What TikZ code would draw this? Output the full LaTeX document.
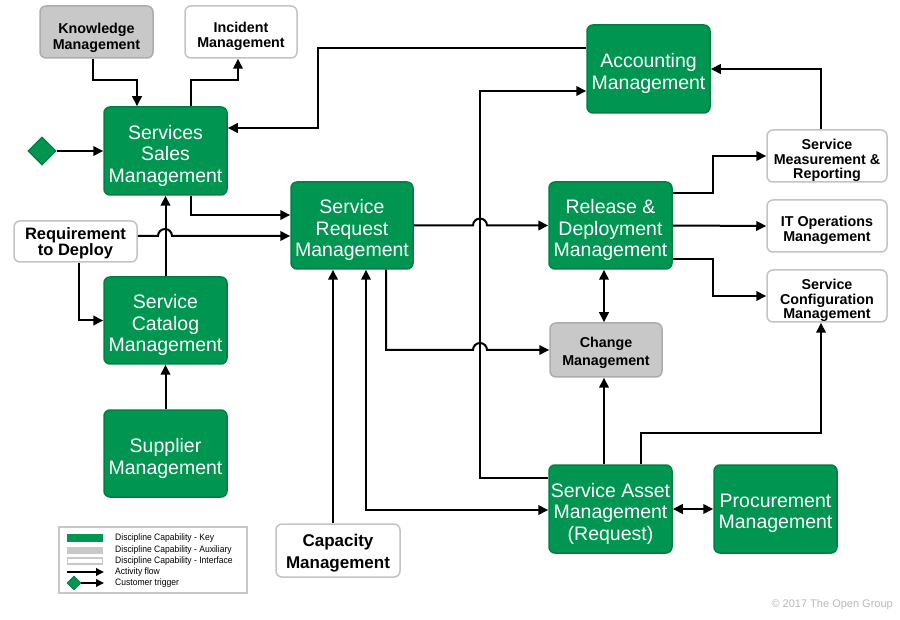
\documentclass[tikz,border=0pt]{standalone}
\usepackage{fontspec}
\setmainfont{Liberation Sans}
\newfontfamily\legfont[FakeStretch=0.92]{Liberation Sans}
\usetikzlibrary{arrows.meta,shapes.geometric}
\definecolor{mgreen}{RGB}{0,150,82}
\definecolor{mgreenD}{RGB}{0,128,64}
\definecolor{gfill}{RGB}{200,200,200}
\definecolor{gborder}{RGB}{172,172,172}
\definecolor{wborder}{RGB}{195,195,195}
\definecolor{copygray}{RGB}{185,185,185}
\begin{document}
\begin{tikzpicture}[x=1pt,y=-1pt,
  box/.style={rounded corners=6pt, line width=1.5pt, inner sep=0pt},
  gbox/.style={box, fill=mgreen, draw=mgreenD, minimum width=123pt, minimum height=88pt},
  wbox/.style={box, fill=white, draw=wborder, minimum width=120pt, minimum height=52pt},
  ybox/.style={box, fill=gfill, draw=gborder, minimum width=113pt, minimum height=52pt},
  gtext/.style={align=center, inner sep=0pt, text=white, font=\fontsize{19.5}{21.5}\selectfont},
  btext/.style={align=center, inner sep=0pt, text=black, font=\bfseries\fontsize{14.3}{14.8}\selectfont},
  trig/.style={diamond, fill=mgreen, draw=mgreenD, line width=1.2pt, inner sep=0pt},
  tip/.tip={Triangle[length=10pt,width=9.5pt]},
  arr/.style={line width=2pt, -tip},
  arr2/.style={line width=2pt, tip-tip},
  legtext/.style={font=\legfont\fontsize{9.3}{10}\selectfont, anchor=west, inner sep=0pt}
]
\useasboundingbox (0,0) rectangle (900,620);

% ---------- boxes ----------
\node[ybox] (km) at (96.5,32) {};
\node[wbox, minimum width=112pt] (im) at (241,32) {};
\node[gbox] (ssm) at (165.5,151) {};
\node[trig, minimum width=28pt, minimum height=28pt] (dia) at (42,151) {};
\node[wbox, minimum width=123pt, minimum height=41pt] (rtd) at (75.5,241.5) {};
\node[gbox, minimum height=87pt] (scm) at (165.5,320.5) {};
\node[gbox, minimum height=87pt] (sup) at (165.5,453.5) {};
\node[gbox, minimum width=122pt, minimum height=87pt] (srm) at (352,225.5) {};
\node[wbox, minimum width=124pt, minimum height=53pt] (cap) at (338,550.5) {};
\node[gbox] (acc) at (648.5,69) {};
\node[gbox, minimum height=87pt] (rdm) at (610.5,225.5) {};
\node[ybox, minimum width=112pt, minimum height=54pt] (chg) at (606,350) {};
\node[wbox] (smr) at (827,156) {};
\node[wbox] (itm) at (827,226) {};
\node[wbox] (scfg) at (827,296) {};
\node[gbox] (sam) at (610.5,509) {};
\node[gbox] (proc) at (775.5,509) {};

% ---------- box texts ----------
\node[btext, font=\bfseries\fontsize{14.3}{15.8}\selectfont] (km-t) at ([yshift=-5.5]km.center) {Knowledge\\Management};
\node[btext] (im-t) at ([yshift=-4.5]im.center) {Incident\\Management};
\node[gtext] (ssm-t) at ([yshift=-4.5]ssm.center) {Services\\Sales\\Management};
\node[btext, font=\bfseries\fontsize{16.5}{16}\selectfont] (rtd-t) at ([yshift=-2]rtd.center) {Requirement\\to Deploy};
\node[gtext] (scm-t) at ([yshift=-4.5]scm.center) {Service\\Catalog\\Management};
\node[gtext] (sup-t) at ([yshift=-5]sup.center) {Supplier\\Management};
\node[gtext] (srm-t) at ([yshift=-4.5]srm.center) {Service\\Request\\Management};
\node[btext, font=\bfseries\fontsize{17}{21.5}\selectfont] (cap-t) at ([yshift=-2.5]cap.center) {Capacity\\Management};
\node[gtext] (acc-t) at ([yshift=-4.5]acc.center) {Accounting\\Management};
\node[gtext] (rdm-t) at ([yshift=-4.5]rdm.center) {Release \&\\Deployment\\Management};
\node[btext, font=\bfseries\fontsize{14.3}{18}\selectfont] (chg-t) at ([yshift=-3]chg.center) {Change\\Management};
\node[btext] (smr-t) at ([yshift=-4.5]smr.center) {Service\\Measurement \&\\Reporting};
\node[btext, font=\bfseries\fontsize{14.3}{15}\selectfont] (itm-t) at ([yshift=-4.5]itm.center) {IT Operations\\Management};
\node[btext] (scfg-t) at ([yshift=-4.5]scfg.center) {Service\\Configuration\\Management};
\node[gtext] (sam-t) at ([yshift=-4.5]sam.center) {Service Asset\\Management\\(Request)};
\node[gtext] (proc-t) at ([yshift=-4.5]proc.center) {Procurement\\Management};

% ---------- connectors ----------
\draw[arr] ([xshift=-3.5]km.south) |- (137,80) -- ([xshift=-28.5]ssm.north);
\draw[arr] ([xshift=25.5]ssm.north) |- (238,80) -- ([xshift=-3]im.south);
\draw[arr] (dia.east) -- (ssm.west);
\draw[arr] ([yshift=21]acc.west) -| (318,128) -- ([yshift=23]ssm.east);
\draw[arr] ([xshift=25.5]ssm.south) |- ([yshift=10.5]srm.west);
\draw[arr] ([yshift=5.5]rtd.east) -- (158,236) arc[start angle=180, end angle=0, radius=7pt]
      -- ([yshift=-10.5]srm.west);
\draw[arr] ([xshift=3.5]rtd.south) |- (scm.west);
\draw[arr] (scm.north) -- (ssm.south);
\draw[arr] (sup.north) -- (scm.south);
\draw[arr] (srm.east) -- (473,225.5) arc[start angle=180, end angle=0, radius=7pt] -- (rdm.west);
\draw[arr] ([xshift=34]srm.south) -- (386,350) -- (473,350)
      arc[start angle=180, end angle=0, radius=7pt] -- (chg.west);
\draw[arr] ([yshift=31]sam.west) -| (480,91) -- ([yshift=-22]acc.west);
\draw[arr] ([xshift=-5]cap.north) -- ([xshift=-19]srm.south);
\draw[arr2] ([xshift=14]srm.south) |- ([yshift=-1]sam.west);
\draw[arr] ([yshift=32.5]rdm.east) -| (713,156) -- (smr.west);
\draw[arr] (rdm.east) -- (itm.west);
\draw[arr] ([yshift=-33.5]rdm.east) -| (713,296) -- (scfg.west);
\draw[arr2] ([xshift=-6.5]rdm.south) -- ([xshift=-2]chg.north);
\draw[arr] ([xshift=-6.5]sam.north) -- ([xshift=-2]chg.south);
\draw[arr] ([xshift=30.5]sam.north) |- (821,433) -- ([xshift=-6]scfg.south);
\draw[arr] ([xshift=-6]smr.north) |- (acc.east);
\draw[arr2] (sam.east) -- (proc.west);

% ---------- legend ----------
\node[draw=gfill, line width=1.5pt, fill=white, minimum width=188pt, minimum height=66pt,
      inner sep=0pt] (leg) at (153,560) {};
\node[fill=mgreen, minimum width=36pt, minimum height=8pt, inner sep=0pt] (lk) at (85,538) {};
\node[fill=gfill, minimum width=36pt, minimum height=7pt, inner sep=0pt] (la) at (85,550.5) {};
\node[draw=gfill, line width=1.2pt, fill=white, minimum width=35pt, minimum height=6pt, inner sep=0pt] (li) at (85,561) {};
\coordinate (lfa) at (67,572);
\coordinate (lfb) at (104,572);
\draw[line width=1.8pt, -{Triangle[length=8pt,width=7.5pt]}] (lfa) -- (lfb);
\node[trig, minimum width=14pt, minimum height=14pt, line width=0.8pt] (ld) at (74,583) {};
\coordinate (ldb) at (104,583);
\draw[line width=1.8pt, -{Triangle[length=8pt,width=7.5pt]}] (ld.east) -- (ldb);
\node[legtext] (t1) at (115,538) {Discipline Capability - Key};
\node[legtext] (t2) at (115,550.5) {Discipline Capability - Auxiliary};
\node[legtext] (t3) at (115,561.5) {Discipline Capability - Interface};
\node[legtext] (t4) at (115,572) {Activity flow};
\node[legtext] (t5) at (115,583) {Customer trigger};

% ---------- copyright ----------
\node[anchor=east, inner sep=0pt, text=copygray, font=\fontsize{11}{12}\selectfont] (copy) at (893,605)
  {© 2017 The Open Group};
\end{tikzpicture}
\end{document}
